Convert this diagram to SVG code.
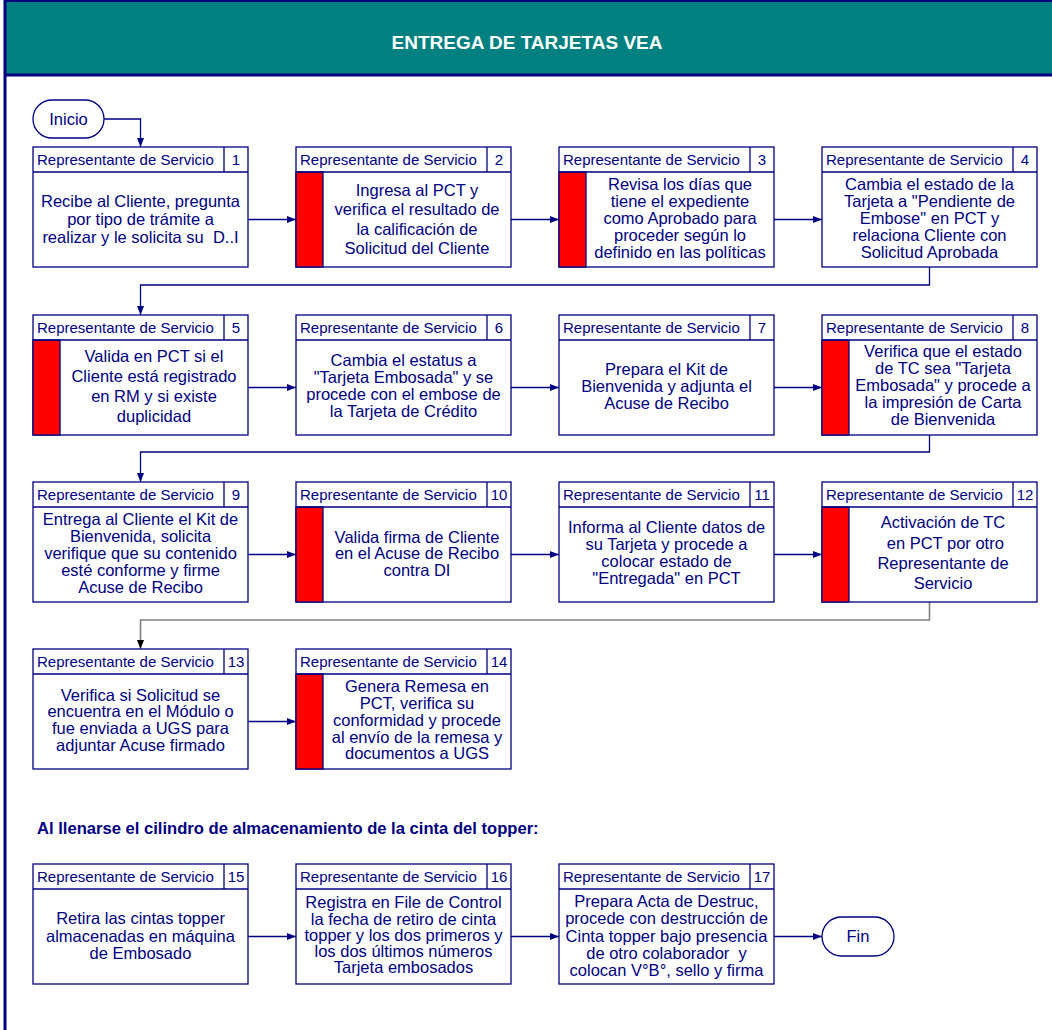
<svg xmlns="http://www.w3.org/2000/svg" width="1052" height="1030" viewBox="0 0 1052 1030">
<style>
.box{fill:#fff;stroke:#000080;stroke-width:1.3}
.sep{stroke:#000080;stroke-width:1.3}
.bar{fill:#ff0000;stroke:#000080;stroke-width:1.3}
.hd{font-family:"Liberation Sans",Arial,sans-serif;font-size:15px;fill:#000080}
.num{text-anchor:middle}
.bd{font-family:"Liberation Sans",Arial,sans-serif;font-size:16.5px;fill:#000080;text-anchor:middle;white-space:pre}
.term{fill:#fff;stroke:#000080;stroke-width:1.3}
.conn{fill:none;stroke:#000080;stroke-width:1.3}
.conn2{fill:none;stroke:#808080;stroke-width:1.6}
.title{font-family:"Liberation Sans",Arial,sans-serif;font-size:19px;font-weight:bold;fill:#fff;text-anchor:middle}
.note{font-family:"Liberation Sans",Arial,sans-serif;font-size:16.6px;font-weight:bold;fill:#000080}
</style>
<defs>
<marker id="arr" markerUnits="userSpaceOnUse" markerWidth="10" markerHeight="8" refX="9" refY="3.5" orient="auto"><path d="M0,0 L9,3.5 L0,7 z" fill="#000080"/></marker>
<marker id="arrk" markerUnits="userSpaceOnUse" markerWidth="10" markerHeight="8" refX="9" refY="3.5" orient="auto"><path d="M0,0 L9,3.5 L0,7 z" fill="#000000"/></marker>
</defs>
<rect x="0" y="0" width="1052" height="1030" fill="#fff"/>
<g id="frame">
<rect x="4" y="2" width="1050" height="72" fill="#008080"/>
<line x1="4" y1="1" x2="1052" y2="1" stroke="#000080" stroke-width="2"/>
<line x1="4" y1="75" x2="1052" y2="75" stroke="#000080" stroke-width="3"/>
<line x1="5" y1="0" x2="5" y2="1030" stroke="#000080" stroke-width="3"/>
<text class="title" x="527" y="49">ENTREGA DE TARJETAS VEA</text>
</g>
<text class="note" x="37" y="834">Al llenarse el cilindro de almacenamiento de la cinta del topper:</text>
<g id="connectors">
<path class="conn" d="M104,119 H140.5 V147" marker-end="url(#arr)"/>
<path class="conn" d="M248,219.5 H296" marker-end="url(#arr)"/>
<path class="conn" d="M511,219.5 H559" marker-end="url(#arr)"/>
<path class="conn" d="M774,219.5 H822" marker-end="url(#arr)"/>
<path class="conn" d="M929.5,267 V285 H140.5 V315" marker-end="url(#arr)"/>
<path class="conn" d="M248,387.5 H296" marker-end="url(#arr)"/>
<path class="conn" d="M511,387.5 H559" marker-end="url(#arr)"/>
<path class="conn" d="M774,387.5 H822" marker-end="url(#arr)"/>
<path class="conn" d="M929.5,435 V452 H140.5 V482" marker-end="url(#arr)"/>
<path class="conn" d="M248,554.5 H296" marker-end="url(#arr)"/>
<path class="conn" d="M511,554.5 H559" marker-end="url(#arr)"/>
<path class="conn" d="M774,554.5 H822" marker-end="url(#arr)"/>
<path class="conn2" d="M929.5,602 V620 H140.5 V649" marker-end="url(#arrk)"/>
<path class="conn" d="M248,721.5 H296" marker-end="url(#arr)"/>
<path class="conn" d="M248,936.5 H296" marker-end="url(#arr)"/>
<path class="conn" d="M511,936.5 H559" marker-end="url(#arr)"/>
<path class="conn" d="M774,936.5 H822" marker-end="url(#arr)"/>
</g>
<g id="inicio"><rect class="term" x="33" y="100" width="71" height="38" rx="19"/><text class="bd" x="68.5" y="124.7">Inicio</text></g>
<g id="fin"><rect class="term" x="822" y="917" width="72" height="39" rx="19.5"/><text class="bd" x="858" y="942.2">Fin</text></g>

<g id="n1" transform="translate(33,147)"><rect class="box" width="215" height="120"/><line class="sep" x1="0" y1="25" x2="215" y2="25"/><line class="sep" x1="191" y1="0" x2="191" y2="25"/><text class="hd" x="4" y="18">Representante de Servicio</text><text class="hd num" x="203" y="18">1</text>
<text class="bd"><tspan x="107.5" y="59.7">Recibe al Cliente, pregunta</tspan><tspan x="107.5" y="77.7">por tipo de trámite a</tspan><tspan x="107.5" y="95.7">realizar y le solicita su  D..I</tspan></text></g>

<g id="n2" transform="translate(296,147)"><rect class="box" width="215" height="120"/><rect class="bar" x="0" y="25" width="27" height="95"/><line class="sep" x1="0" y1="25" x2="215" y2="25"/><line class="sep" x1="191" y1="0" x2="191" y2="25"/><text class="hd" x="4" y="18">Representante de Servicio</text><text class="hd num" x="203" y="18">2</text>
<text class="bd"><tspan x="121" y="48.5">Ingresa al PCT y</tspan><tspan x="121" y="68">verifica el resultado de</tspan><tspan x="121" y="87.5">la calificación de</tspan><tspan x="121" y="107">Solicitud del Cliente</tspan></text></g>

<g id="n3" transform="translate(559,147)"><rect class="box" width="215" height="120"/><rect class="bar" x="0" y="25" width="27" height="95"/><line class="sep" x1="0" y1="25" x2="215" y2="25"/><line class="sep" x1="191" y1="0" x2="191" y2="25"/><text class="hd" x="4" y="18">Representante de Servicio</text><text class="hd num" x="203" y="18">3</text>
<text class="bd"><tspan x="121" y="43.2">Revisa los días que</tspan><tspan x="121" y="60.2">tiene el expediente</tspan><tspan x="121" y="77.2">como Aprobado para</tspan><tspan x="121" y="94.2">proceder según lo</tspan><tspan x="121" y="111.2">definido en las políticas</tspan></text></g>

<g id="n4" transform="translate(822,147)"><rect class="box" width="215" height="120"/><line class="sep" x1="0" y1="25" x2="215" y2="25"/><line class="sep" x1="191" y1="0" x2="191" y2="25"/><text class="hd" x="4" y="18">Representante de Servicio</text><text class="hd num" x="203" y="18">4</text>
<text class="bd"><tspan x="107.5" y="43.2">Cambia el estado de la</tspan><tspan x="107.5" y="60.2">Tarjeta a "Pendiente de</tspan><tspan x="107.5" y="77.2">Embose" en PCT y</tspan><tspan x="107.5" y="94.2">relaciona Cliente con</tspan><tspan x="107.5" y="111.2">Solicitud Aprobada</tspan></text></g>

<g id="n5" transform="translate(33,315)"><rect class="box" width="215" height="120"/><rect class="bar" x="0" y="25" width="27" height="95"/><line class="sep" x1="0" y1="25" x2="215" y2="25"/><line class="sep" x1="191" y1="0" x2="191" y2="25"/><text class="hd" x="4" y="18">Representante de Servicio</text><text class="hd num" x="203" y="18">5</text>
<text class="bd"><tspan x="121" y="47.4">Valida en PCT si el</tspan><tspan x="121" y="67.4">Cliente está registrado</tspan><tspan x="121" y="87.4">en RM y si existe</tspan><tspan x="121" y="107.4">duplicidad</tspan></text></g>

<g id="n6" transform="translate(296,315)"><rect class="box" width="215" height="120"/><line class="sep" x1="0" y1="25" x2="215" y2="25"/><line class="sep" x1="191" y1="0" x2="191" y2="25"/><text class="hd" x="4" y="18">Representante de Servicio</text><text class="hd num" x="203" y="18">6</text>
<text class="bd"><tspan x="107.5" y="50.7">Cambia el estatus a</tspan><tspan x="107.5" y="67.7">"Tarjeta Embosada" y se</tspan><tspan x="107.5" y="84.7">procede con el embose de</tspan><tspan x="107.5" y="101.7">la Tarjeta de Crédito</tspan></text></g>

<g id="n7" transform="translate(559,315)"><rect class="box" width="215" height="120"/><line class="sep" x1="0" y1="25" x2="215" y2="25"/><line class="sep" x1="191" y1="0" x2="191" y2="25"/><text class="hd" x="4" y="18">Representante de Servicio</text><text class="hd num" x="203" y="18">7</text>
<text class="bd"><tspan x="107.5" y="60.2">Prepara el Kit de</tspan><tspan x="107.5" y="77.2">Bienvenida y adjunta el</tspan><tspan x="107.5" y="93.7">Acuse de Recibo</tspan></text></g>

<g id="n8" transform="translate(822,315)"><rect class="box" width="215" height="120"/><rect class="bar" x="0" y="25" width="27" height="95"/><line class="sep" x1="0" y1="25" x2="215" y2="25"/><line class="sep" x1="191" y1="0" x2="191" y2="25"/><text class="hd" x="4" y="18">Representante de Servicio</text><text class="hd num" x="203" y="18">8</text>
<text class="bd"><tspan x="121" y="42.2">Verifica que el estado</tspan><tspan x="121" y="59.2">de TC sea "Tarjeta</tspan><tspan x="121" y="76.2">Embosada" y procede a</tspan><tspan x="121" y="93.2">la impresión de Carta</tspan><tspan x="121" y="110.2">de Bienvenida</tspan></text></g>

<g id="n9" transform="translate(33,482)"><rect class="box" width="215" height="120"/><line class="sep" x1="0" y1="25" x2="215" y2="25"/><line class="sep" x1="191" y1="0" x2="191" y2="25"/><text class="hd" x="4" y="18">Representante de Servicio</text><text class="hd num" x="203" y="18">9</text>
<text class="bd"><tspan x="107.5" y="43.2">Entrega al Cliente el Kit de</tspan><tspan x="107.5" y="60.2">Bienvenida, solicita</tspan><tspan x="107.5" y="77.2">verifique que su contenido</tspan><tspan x="107.5" y="94.2">esté conforme y firme</tspan><tspan x="107.5" y="111.2">Acuse de Recibo</tspan></text></g>

<g id="n10" transform="translate(296,482)"><rect class="box" width="215" height="120"/><rect class="bar" x="0" y="25" width="27" height="95"/><line class="sep" x1="0" y1="25" x2="215" y2="25"/><line class="sep" x1="191" y1="0" x2="191" y2="25"/><text class="hd" x="4" y="18">Representante de Servicio</text><text class="hd num" x="203" y="18">10</text>
<text class="bd"><tspan x="121" y="60.7">Valida firma de Cliente</tspan><tspan x="121" y="77.2">en el Acuse de Recibo</tspan><tspan x="121" y="93.7">contra DI</tspan></text></g>

<g id="n11" transform="translate(559,482)"><rect class="box" width="215" height="120"/><line class="sep" x1="0" y1="25" x2="215" y2="25"/><line class="sep" x1="191" y1="0" x2="191" y2="25"/><text class="hd" x="4" y="18">Representante de Servicio</text><text class="hd num" x="203" y="18">11</text>
<text class="bd"><tspan x="107.5" y="51.4">Informa al Cliente datos de</tspan><tspan x="107.5" y="68">su Tarjeta y procede a</tspan><tspan x="107.5" y="84.7">colocar estado de</tspan><tspan x="107.5" y="102">"Entregada" en PCT</tspan></text></g>

<g id="n12" transform="translate(822,482)"><rect class="box" width="215" height="120"/><rect class="bar" x="0" y="25" width="27" height="95"/><line class="sep" x1="0" y1="25" x2="215" y2="25"/><line class="sep" x1="191" y1="0" x2="191" y2="25"/><text class="hd" x="4" y="18">Representante de Servicio</text><text class="hd num" x="203" y="18">12</text>
<text class="bd" xml:space="preserve"><tspan x="121" y="46.4">Activación de TC</tspan><tspan x="121" y="67"> en PCT por otro</tspan><tspan x="121" y="87">Representante de</tspan><tspan x="121" y="107">Servicio</tspan></text></g>

<g id="n13" transform="translate(33,649)"><rect class="box" width="215" height="120"/><line class="sep" x1="0" y1="25" x2="215" y2="25"/><line class="sep" x1="191" y1="0" x2="191" y2="25"/><text class="hd" x="4" y="18">Representante de Servicio</text><text class="hd num" x="203" y="18">13</text>
<text class="bd"><tspan x="107.5" y="51.7">Verifica si Solicitud se</tspan><tspan x="107.5" y="68.4">encuentra en el Módulo o</tspan><tspan x="107.5" y="84.7">fue enviada a UGS para</tspan><tspan x="107.5" y="101.7">adjuntar Acuse firmado</tspan></text></g>

<g id="n14" transform="translate(296,649)"><rect class="box" width="215" height="120"/><rect class="bar" x="0" y="25" width="27" height="95"/><line class="sep" x1="0" y1="25" x2="215" y2="25"/><line class="sep" x1="191" y1="0" x2="191" y2="25"/><text class="hd" x="4" y="18">Representante de Servicio</text><text class="hd num" x="203" y="18">14</text>
<text class="bd"><tspan x="121" y="43.4">Genera Remesa en</tspan><tspan x="121" y="59.7">PCT, verifica su</tspan><tspan x="121" y="76.7">conformidad y procede</tspan><tspan x="121" y="93.7">al envío de la remesa y</tspan><tspan x="121" y="109.7">documentos a UGS</tspan></text></g>

<g id="n15" transform="translate(33,864)"><rect class="box" width="215" height="120"/><line class="sep" x1="0" y1="25" x2="215" y2="25"/><line class="sep" x1="191" y1="0" x2="191" y2="25"/><text class="hd" x="4" y="18">Representante de Servicio</text><text class="hd num" x="203" y="18">15</text>
<text class="bd"><tspan x="107.5" y="59.7">Retira las cintas topper</tspan><tspan x="107.5" y="77.7">almacenadas en máquina</tspan><tspan x="107.5" y="94.7">de Embosado</tspan></text></g>

<g id="n16" transform="translate(296,864)"><rect class="box" width="215" height="120"/><line class="sep" x1="0" y1="25" x2="215" y2="25"/><line class="sep" x1="191" y1="0" x2="191" y2="25"/><text class="hd" x="4" y="18">Representante de Servicio</text><text class="hd num" x="203" y="18">16</text>
<text class="bd"><tspan x="107.5" y="44.2">Registra en File de Control</tspan><tspan x="107.5" y="60.5">la fecha de retiro de cinta</tspan><tspan x="107.5" y="76.8">topper y los dos primeros y</tspan><tspan x="107.5" y="93.1">los dos últimos números</tspan><tspan x="107.5" y="109.4">Tarjeta embosados</tspan></text></g>

<g id="n17" transform="translate(559,864)"><rect class="box" width="215" height="120"/><line class="sep" x1="0" y1="25" x2="215" y2="25"/><line class="sep" x1="191" y1="0" x2="191" y2="25"/><text class="hd" x="4" y="18">Representante de Servicio</text><text class="hd num" x="203" y="18">17</text>
<text class="bd" xml:space="preserve"><tspan x="107.5" y="43.4">Prepara Acta de Destruc,</tspan><tspan x="107.5" y="60">procede con destrucción de</tspan><tspan x="107.5" y="77.7">Cinta topper bajo presencia</tspan><tspan x="107.5" y="95">de otro colaborador  y</tspan><tspan x="107.5" y="111.7">colocan V°B°, sello y firma</tspan></text></g>
</svg>
